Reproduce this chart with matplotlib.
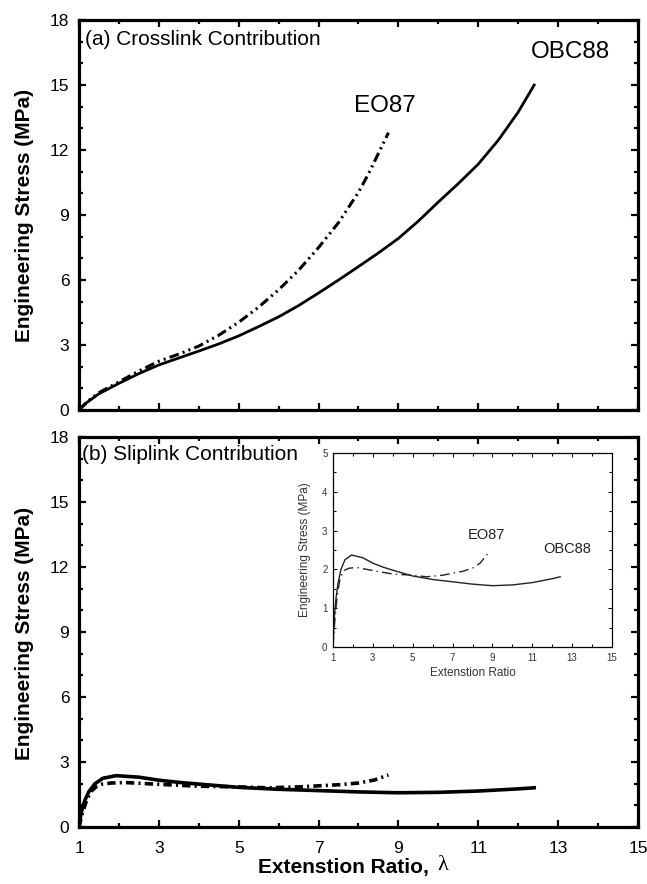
import matplotlib
matplotlib.use("Agg")
import matplotlib.pyplot as plt
from matplotlib.ticker import MultipleLocator

plt.rcParams['font.family'] = ['Liberation Sans', 'DejaVu Sans']
plt.rcParams['lines.scale_dashes'] = False

# (a) crosslink contribution
obc_cross_x = [1, 1.2, 1.5, 2, 2.5, 3, 3.5, 4, 4.5, 5, 5.5, 6, 6.5, 7, 7.5, 8, 8.5, 9, 9.5,
               10, 10.5, 11, 11.5, 12, 12.4]
obc_cross_y = [0, 0.35, 0.75, 1.23, 1.68, 2.08, 2.4, 2.72, 3.05, 3.42, 3.85, 4.3, 4.82, 5.4,
               6.0, 6.62, 7.25, 7.92, 8.72, 9.6, 10.45, 11.35, 12.45, 13.75, 15.0]
eo_cross_x = [1, 1.2, 1.5, 2, 2.5, 3, 3.5, 4, 4.5, 5, 5.5, 6, 6.5, 7, 7.5, 8, 8.25, 8.5, 8.75]
eo_cross_y = [0, 0.38, 0.8, 1.3, 1.8, 2.25, 2.58, 2.95, 3.45, 4.05, 4.75, 5.55, 6.45, 7.5,
              8.65, 10.05, 10.9, 11.85, 12.8]

# (b) sliplink contribution (same data in the inset)
obc_slip_x = [1, 1.04, 1.08, 1.15, 1.25, 1.4, 1.6, 1.93, 2.5, 3, 3.5, 4, 5, 6, 7, 8, 9, 10,
              11, 12, 12.4]
obc_slip_y = [0, 0.5, 0.86, 1.25, 1.64, 2.0, 2.25, 2.37, 2.3, 2.16, 2.06, 1.98, 1.83, 1.74,
              1.68, 1.62, 1.58, 1.6, 1.66, 1.76, 1.81]
eo_slip_x = [1, 1.08, 1.17, 1.25, 1.33, 1.45, 1.59, 1.8, 2.18, 3, 4, 5, 5.7, 6.5, 7, 7.5, 8,
             8.4, 8.75]
eo_slip_y = [0, 0.6, 1.12, 1.45, 1.7, 1.88, 1.98, 2.03, 2.05, 1.97, 1.88, 1.85, 1.81, 1.85,
             1.9, 1.95, 2.03, 2.17, 2.4]

xticks = [1, 3, 5, 7, 9, 11, 13, 15]

W, H = 647, 884
fig = plt.figure(figsize=(W / 100, H / 100), dpi=100)

def px_box(l, t, r, b):
    return [l / W, 1 - b / H, (r - l) / W, (b - t) / H]

ax1 = fig.add_axes(px_box(79, 20, 638, 410))
ax2 = fig.add_axes(px_box(79, 437, 638, 827))

for ax in (ax1, ax2):
    ax.set_xlim(1, 15)
    ax.set_ylim(0, 18)
    ax.set_xticks(xticks)
    ax.xaxis.set_minor_locator(MultipleLocator(1))
    ax.yaxis.set_major_locator(MultipleLocator(3))
    ax.yaxis.set_minor_locator(MultipleLocator(1))
    ax.tick_params(which='both', direction='in', top=True, right=True, width=1.6)
    ax.tick_params(which='major', length=5, labelsize=12.5, pad=7)
    ax.tick_params(which='minor', length=3)
    ax.tick_params(axis='x', pad=10)
    for s in ax.spines.values():
        s.set_linewidth(2.3)

ax1.tick_params(axis='x', labelbottom=False)

# top panel
ax1.plot(obc_cross_x, obc_cross_y, color='black', lw=2.0)
ax1.plot(eo_cross_x, eo_cross_y, color='black', lw=2.2, dashes=(7, 3, 1.5, 3, 1.5, 3))
ax1.text(0.011, 0.949, '(a) Crosslink Contribution', transform=ax1.transAxes,
         fontsize=15, ha='left', va='center')
ax1.text(13.3, 16.5, 'OBC88', fontsize=17.5, ha='center', va='center')
ax1.text(8.66, 14.05, 'EO87', fontsize=17.5, ha='center', va='center')

# bottom panel
ax2.plot(obc_slip_x, obc_slip_y, color='black', lw=2.6)
ax2.plot(eo_slip_x, eo_slip_y, color='black', lw=2.6, dashes=(6, 3, 1.5, 3))
ax2.text(0.006, 0.954, '(b) Sliplink Contribution', transform=ax2.transAxes,
         fontsize=15, ha='left', va='center')

# inset
ins = fig.add_axes(px_box(333, 453, 612, 647))
ins.plot(obc_slip_x, obc_slip_y, color='#222222', lw=1.0)
ins.plot(eo_slip_x, eo_slip_y, color='#222222', lw=1.0, dashes=(7, 3, 1, 3))
ins.set_xlim(1, 15)
ins.set_ylim(0, 5)
ins.set_xticks(xticks)
ins.xaxis.set_minor_locator(MultipleLocator(1))
ins.yaxis.set_major_locator(MultipleLocator(1))
ins.yaxis.set_minor_locator(MultipleLocator(0.5))
ins.tick_params(which='both', direction='in', top=True, right=True, width=0.7,
                labelsize=7, labelcolor='#333333', pad=4)
ins.tick_params(which='major', length=3)
ins.tick_params(which='minor', length=2)
for s in ins.spines.values():
    s.set_linewidth(0.9)
ins.set_xlabel('Extenstion Ratio', fontsize=8.5, color='#333333', labelpad=3)
ins.set_ylabel('Engineering Stress (MPa)', fontsize=8.5, color='#333333', labelpad=8)
ins.text(8.72, 2.89, 'EO87', fontsize=10.5, color='#222222', ha='center', va='center')
ins.text(12.74, 2.52, 'OBC88', fontsize=10.5, color='#222222', ha='center', va='center')

# outer labels
fig.text(25 / W, 1 - 215 / H, 'Engineering Stress (MPa)', rotation=90,
         fontsize=15, fontweight='bold', ha='center', va='center')
fig.text(25 / W, 1 - 633 / H, 'Engineering Stress (MPa)', rotation=90,
         fontsize=15, fontweight='bold', ha='center', va='center')
fig.text(343 / W, 1 - 867 / H, 'Extenstion Ratio,',
         fontsize=15, fontweight='bold', ha='center', va='center')
fig.text(443 / W, 1 - 866 / H, '\u03bb', family=['Liberation Serif', 'DejaVu Serif'],
         fontsize=16, ha='center', va='center')

fig.savefig('out.png', dpi=100)
